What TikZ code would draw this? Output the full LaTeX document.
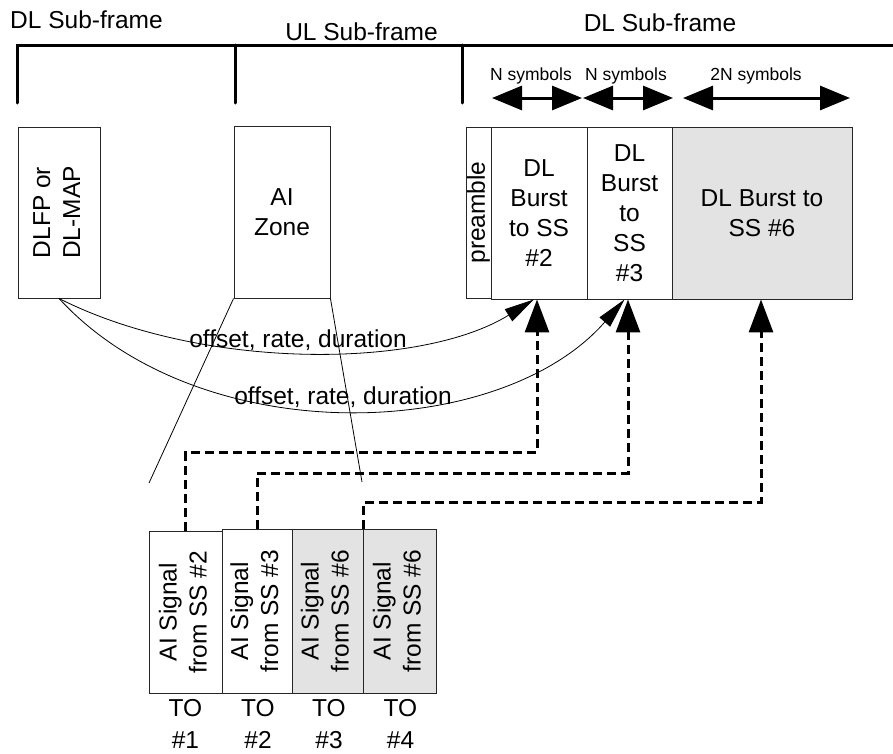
\documentclass[tikz,border=0pt]{standalone}
\usepackage{fontspec}
\setmainfont{Liberation Sans}
\usepackage{graphicx}
\usetikzlibrary{arrows.meta}
\definecolor{boxgray}{RGB}{227,227,227}
\newcommand\dfbig{\fontsize{24.5}{30}\selectfont}
\newcommand\dfsmall{\fontsize{17.5}{21}\selectfont}
\newcommand\rottwo[2]{\rotatebox{90}{\begin{tabular}{@{}c@{}}#1\\#2\end{tabular}}}
\begin{document}
\begin{tikzpicture}[x=1pt,y=-1pt,
  box/.style={draw=black!85, line width=0.9pt, inner sep=0pt, align=center, font=\dfbig},
  graybox/.style={box, fill=boxgray},
  txt/.style={inner sep=0pt, font=\dfbig, align=center},
  smalltxt/.style={inner sep=0pt, font=\dfsmall},
  bracket/.style={line width=3pt, line cap=round, line join=miter},
  dblarrow/.style={line width=3pt, {Triangle[length=30pt,width=24pt]}-{Triangle[length=30pt,width=24pt]}},
  dasharrow/.style={line width=3pt, dash pattern=on 9pt off 5pt, -{Triangle[length=33pt,width=24pt]}},
  curvearrow/.style={line width=0.8pt, -{Triangle[length=30pt,width=14pt]}},
  thinline/.style={line width=0.8pt}]
\useasboundingbox (0,0) rectangle (893,753);

% top bracket
\coordinate (t0) at (17,103);
\coordinate (t1) at (17,45);
\coordinate (t2) at (893,45);
\coordinate (u0) at (235,45);
\coordinate (u1) at (235,103);
\coordinate (v0) at (462,45);
\coordinate (v1) at (462,103);
\draw[bracket] (t0) -- (t1) -- (t2);
\draw[bracket] (u0) -- (u1);
\draw[bracket] (v0) -- (v1);

\node[txt, anchor=base] (dl1) at (86.5,28.5) {DL Sub-frame};
\node[txt, anchor=base] (ul) at (361.5,40.5) {UL Sub-frame};
\node[txt, anchor=base] (dl2) at (660,31.5) {DL Sub-frame};

\node[smalltxt, anchor=base] (ns1) at (531,80) {N symbols};
\node[smalltxt, anchor=base] (ns2) at (626,80) {N symbols};
\node[smalltxt, anchor=base] (ns3) at (756,80) {2N symbols};

\coordinate (a1l) at (492,98);
\coordinate (a1r) at (582,98);
\coordinate (a2l) at (583,98);
\coordinate (a2r) at (673,98);
\coordinate (a3l) at (683,98);
\coordinate (a3r) at (850,98);
\draw[dblarrow] (a1l) -- (a1r);
\draw[dblarrow] (a2l) -- (a2r);
\draw[dblarrow] (a3l) -- (a3r);

% upper boxes
\node[box, minimum width=82, minimum height=171] (dlfp) at (59,212.5) {\rottwo{DLFP or}{DL-MAP}};
\node[box, minimum width=96, minimum height=172] (aiz) at (282,212) {AI\\Zone};
\node[box, minimum width=25, minimum height=171] (pre) at (478.5,212.5) {\rotatebox{90}{preamble}};
\node[box, minimum width=96, minimum height=172] (b2) at (539,213) {DL\\Burst\\to SS\\\#2};
\node[box, minimum width=85, minimum height=172] (b3) at (629.5,213) {DL\\Burst\\to\\SS\\\#3};
\node[graybox, minimum width=180, minimum height=172] (b6) at (762,213) {DL Burst to\\SS \#6};

% lower boxes
\node[box, minimum width=73, minimum height=162] (to1) at (185.5,612) {\rottwo{AI Signal}{from SS \#2}};
\node[box, minimum width=70, minimum height=164] (to2) at (257,611) {\rottwo{AI Signal}{from SS \#3}};
\node[graybox, minimum width=71, minimum height=164] (to3) at (327.5,611) {\rottwo{AI Signal}{from SS \#6}};
\node[graybox, minimum width=73, minimum height=164] (to4) at (399.5,611) {\rottwo{AI Signal}{from SS \#6}};

\node[txt, font=\fontsize{24.5}{32}\selectfont] (lab1) at (185.5,724) {TO\\\#1};
\node[txt, font=\fontsize{24.5}{32}\selectfont] (lab2) at (258,724) {TO\\\#2};
\node[txt, font=\fontsize{24.5}{32}\selectfont] (lab3) at (329,724) {TO\\\#3};
\node[txt, font=\fontsize{24.5}{32}\selectfont] (lab4) at (400.5,724) {TO\\\#4};

% zoom lines from AI zone
\coordinate (zl) at (149,483);
\coordinate (zr) at (362,482);
\draw[thinline] (aiz.south west) -- (zl);
\draw[thinline] (aiz.south east) -- (zr);

% curved arrows
\draw[curvearrow] (dlfp.south) .. controls (200,370) and (420,370) .. ([xshift=-5pt]b2.south);
\draw[curvearrow] (dlfp.south) .. controls (200,452) and (500,442) .. ([xshift=-5pt]b3.south);
\node[txt, anchor=base] (lbl1) at (298,347) {offset, rate, duration};
\node[txt, anchor=base] (lbl2) at (343,404) {offset, rate, duration};

% dashed arrows
\coordinate (k1) at (537,452);
\coordinate (k2) at (628,473);
\coordinate (k3) at (761,502);
\draw[dasharrow] (to1.north) |- (k1) -- (k1 |- b2.south);
\draw[dasharrow] (to2.north) |- (k2) -- (k2 |- b3.south);
\draw[dasharrow] (to3.north east) |- (k3) -- (k3 |- b6.south);
\end{tikzpicture}
\end{document}
